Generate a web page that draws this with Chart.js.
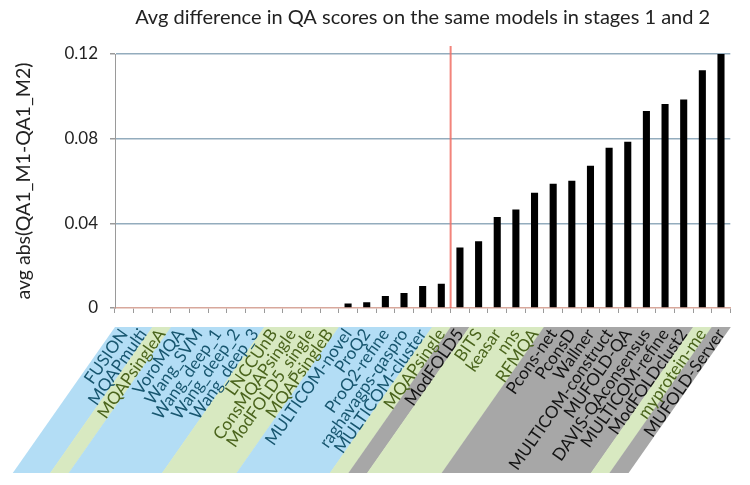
<!DOCTYPE html>
<html>
<head>
<meta charset="utf-8">
<script src="https://cdn.jsdelivr.net/npm/chart.js@4/dist/chart.umd.min.js"></script>
<style>
  html, body { margin: 0; padding: 0; background: #fff; }
  #wrap { width: 750px; height: 485px; }
</style>
</head>
<body>
<div id="wrap"><canvas id="qaChart"></canvas></div>
<script>
// QA methods, sorted by avg difference between stage 1 and stage 2
var modelNames = [
    "FUSION", "MQAPmulti", "MQAPsingleA", "VoroMQA", "Wang_SVM", "Wang_deep_1",
    "Wang_deep_2", "Wang_deep_3", "LNCCUnB", "ConsMQAPsingle", "ModFOLD5_single",
    "MQAPsingleB", "MULTICOM-novel", "ProQ2", "ProQ2-refine", "raghavagps-qaspro",
    "MULTICOM-cluster", "MQAPsingle", "ModFOLD5", "BITS", "keasar", "nns", "RFMQA",
    "Pcons-net", "PconsD", "Wallner", "MULTICOM-construct", "MUFOLD-QA",
    "DAVIS-QAconsensus", "MULTICOM-refine", "ModFOLDclust2", "myprotein-me", "MUFOLD-Server"
];
var avgAbsDiff = [
    0, 0, 0, 0, 0, 0,
    0, 0, 0, 0, 0,
    0, 0.0021, 0.0027, 0.0057, 0.0071,
    0.0104, 0.0114, 0.0286, 0.0315, 0.0430, 0.0465, 0.0544,
    0.0587, 0.0601, 0.0672, 0.0757, 0.0786,
    0.0931, 0.0964, 0.0985, 0.1123, 0.1206
];
// background band behind each label
var labelGroup = [
    "blue", "blue", "green", "blue", "blue", "blue",
    "blue", "blue", "green", "green", "green",
    "green", "blue", "blue", "blue", "blue",
    "blue", "green", "gray", "green", "green", "green", "green",
    "gray", "gray", "gray", "gray", "gray",
    "gray", "gray", "gray", "green", "gray"
];
var yTickValues = [0, 0.04, 0.08, 0.12];
var dividerAfter = "MQAPsingle"; // red line sits right after this one

var bandFill = { blue: "#b3ddf5", green: "#d8e9c1", gray: "#a7a7a7" };
var bandText = { blue: "#17566f", green: "#4a641c", gray: "#141414" };
var LABEL_ANGLE = 55;

var labelBands = {
    id: "labelBands",
    beforeDraw: function (chart) {
        var x = chart.scales.x;
        var ctx = chart.ctx;
        var half = (x.getPixelForValue(1) - x.getPixelForValue(0)) / 2;
        var top = x.top + 19;
        var bottom = x.top + 165;
        var shift = (bottom - top) / Math.tan(LABEL_ANGLE * Math.PI / 180);
        ctx.save();
        var i = 0;
        while (i < modelNames.length) {
            var j = i;
            while (j + 1 < modelNames.length && labelGroup[j + 1] === labelGroup[i]) j++;
            var x0 = x.getPixelForValue(i) - half;
            var x1 = x.getPixelForValue(j) + half;
            ctx.fillStyle = bandFill[labelGroup[i]];
            ctx.beginPath();
            ctx.moveTo(x0, top);
            ctx.lineTo(x1 + 0.5, top);
            ctx.lineTo(x1 + 0.5 - shift, bottom);
            ctx.lineTo(x0 - shift, bottom);
            ctx.closePath();
            ctx.fill();
            i = j + 1;
        }
        ctx.restore();
    }
};

var dividerLine = {
    id: "dividerLine",
    afterDatasetsDraw: function (chart) {
        var x = chart.scales.x;
        var k = modelNames.indexOf(dividerAfter);
        var px = (x.getPixelForValue(k) + x.getPixelForValue(k + 1)) / 2;
        var ctx = chart.ctx;
        ctx.save();
        ctx.strokeStyle = "rgba(240, 110, 100, 0.85)";
        ctx.lineWidth = 2;
        ctx.beginPath();
        ctx.moveTo(px, chart.chartArea.top - 8);
        ctx.lineTo(px, chart.chartArea.bottom);
        ctx.stroke();
        ctx.restore();
    }
};

document.addEventListener("DOMContentLoaded", function () {
    var ctx = document.getElementById("qaChart").getContext("2d");

    var qaChart = new Chart(ctx, {
        type: "bar",
        data: {
            labels: modelNames,
            datasets: [
                {
                    label: "avg abs(QA1_M1-QA1_M2)",
                    data: avgAbsDiff,
                    backgroundColor: "#000",
                    categoryPercentage: 1,
                    barPercentage: 0.38,
                },
            ],
        },
        options: {
            responsive: true,
            maintainAspectRatio: false,
            animation: false,
            layout: { padding: { left: 0, right: 13, top: 0, bottom: 0 } },
            plugins: {
                legend: { display: false },
                tooltip: { enabled: false },
                title: {
                    display: true,
                    text: "Avg difference in QA scores on the same models in stages 1 and 2",
                    fullSize: false,
                    color: "#222",
                    font: { family: "Lato", size: 20, weight: "normal" },
                    padding: { top: 6, bottom: 24 },
                },
            },
            scales: {
                x: {
                    afterFit: function (scale) { scale.height = 177; },
                    grid: {
                        display: true,
                        offset: true,
                        drawOnChartArea: false,
                        drawTicks: true,
                        tickLength: 5,
                        color: "#9a9a9a",
                    },
                    border: { color: "#d8a89c", width: 1.5 },
                    ticks: {
                        autoSkip: false,
                        minRotation: LABEL_ANGLE,
                        maxRotation: LABEL_ANGLE,
                        padding: 12,
                        color: function (c) { return bandText[labelGroup[c.index]]; },
                        font: { family: "Lato", size: 17 },
                    },
                },
                y: {
                    min: 0,
                    max: 0.12,
                    afterFit: function (scale) { scale.width = 115; },
                    afterBuildTicks: function (scale) {
                        scale.ticks = yTickValues.map(function (v) { return { value: v }; });
                    },
                    grid: {
                        color: function (c) { return c.tick && c.tick.value === 0 ? "rgba(0,0,0,0)" : "#93acbd"; },
                        lineWidth: 1.5,
                        tickColor: "#9a9a9a",
                        tickLength: 5,
                    },
                    border: { color: "#9a9a9a" },
                    ticks: {
                        padding: 12,
                        color: "#222",
                        font: { family: "Lato", size: 17 },
                        callback: function (v) { return v === 0 ? "0" : Number(v).toFixed(2); },
                    },
                    title: {
                        display: true,
                        text: "avg abs(QA1_M1-QA1_M2)",
                        color: "#222",
                        font: { family: "Lato", size: 19.5 },
                        padding: { top: 12, bottom: 0 },
                    },
                },
            },
        },
        plugins: [labelBands, dividerLine],
    });
});
</script>
</body>
</html>
